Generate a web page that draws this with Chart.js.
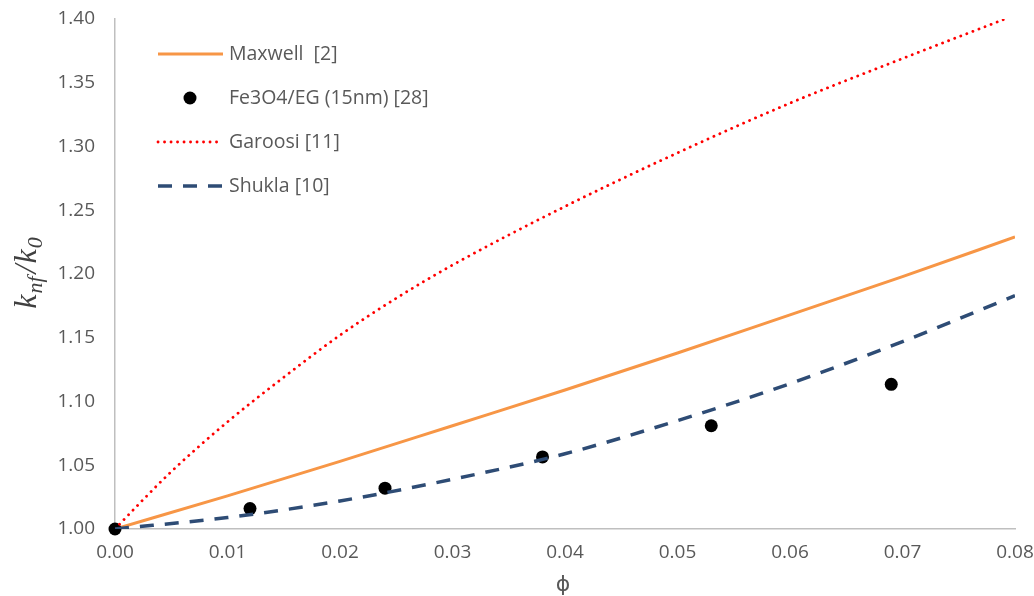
<!DOCTYPE html>
<html>
<head>
<meta charset="utf-8">
<title>k_nf / k_0 vs phi</title>
<script src="https://cdn.jsdelivr.net/npm/chart.js@4.4.1/dist/chart.umd.min.js"></script>
<style>
  html, body { margin: 0; padding: 0; background: #ffffff; }
  #wrap { width: 1034px; height: 596px; }
</style>
</head>
<body>
<div id="wrap"><canvas id="kchart" width="1034" height="596"></canvas></div>
<script>
// values
const maxwellPhi = [0, 0.01, 0.02, 0.03, 0.04, 0.05, 0.06, 0.07, 0.08];
const maxwellK   = [1.000, 1.026, 1.053, 1.081, 1.109, 1.138, 1.168, 1.198, 1.229];

const expPhi = [0, 0.012, 0.024, 0.038, 0.053, 0.069];
const expK   = [1.000, 1.016, 1.032, 1.0565, 1.081, 1.1135];

const garoosiPhi = [0, 0.0025, 0.005, 0.01, 0.015, 0.02, 0.025, 0.03, 0.04, 0.05, 0.06, 0.07, 0.08];
const garoosiK   = [1.000, 1.023, 1.045, 1.084, 1.119, 1.152, 1.181, 1.207, 1.253, 1.295, 1.334, 1.369, 1.403];

const shuklaPhi = [0, 0.01, 0.02, 0.03, 0.04, 0.05, 0.06, 0.07, 0.08];
const shuklaK   = [1.000, 1.009, 1.022, 1.039, 1.059, 1.085, 1.114, 1.147, 1.183];

const xTicks = [0, 0.01, 0.02, 0.03, 0.04, 0.05, 0.06, 0.07, 0.08];
const yTicks = [1.00, 1.05, 1.10, 1.15, 1.20, 1.25, 1.30, 1.35, 1.40];

const toPoints = (xs, ys) => xs.map((x, i) => ({ x: x, y: ys[i] }));

const TEXT_COLOR = '#595959';
const AXIS_COLOR = '#BFBFBF';
const FONT = '"Open Sans", "Liberation Sans", sans-serif';

// legend drawn inside the plot, top-left, plus the two axis titles
const decorations = {
  id: 'decorations',
  afterDraw(chart) {
    const ctx = chart.ctx;
    const sets = chart.data.datasets;
    const rows = [54, 98, 142, 186];
    ctx.save();
    sets.forEach((ds, i) => {
      const y = rows[i];
      if (ds.showLine === false) {
        ctx.beginPath();
        ctx.fillStyle = ds.pointBackgroundColor;
        ctx.arc(190, y, ds.pointRadius, 0, Math.PI * 2);
        ctx.fill();
      } else {
        ctx.beginPath();
        ctx.strokeStyle = ds.borderColor;
        ctx.lineWidth = ds.borderWidth;
        ctx.lineCap = ds.borderCapStyle || 'butt';
        ctx.setLineDash(ds.borderDash || []);
        ctx.moveTo(158, y);
        ctx.lineTo(223, y);
        ctx.stroke();
        ctx.setLineDash([]);
      }
      ctx.fillStyle = TEXT_COLOR;
      ctx.font = '19.5px ' + FONT;
      ctx.textAlign = 'left';
      ctx.textBaseline = 'middle';
      ctx.fillText(ds.label, 229, y);
    });

    // x axis title
    ctx.fillStyle = TEXT_COLOR;
    ctx.font = '22px "DejaVu Sans", sans-serif';
    ctx.textAlign = 'center';
    ctx.textBaseline = 'middle';
    ctx.fillText('\u03D5', 563, 585);

    // y axis title: k_nf / k_0
    ctx.translate(26, 273);
    ctx.rotate(-Math.PI / 2);
    ctx.fillStyle = '#404040';
    ctx.textBaseline = 'alphabetic';
    ctx.textAlign = 'left';
    const big = 'italic 32px "Liberation Serif", "DejaVu Serif", serif';
    const small = 'italic 22px "Liberation Serif", "DejaVu Serif", serif';
    const parts = [
      { t: 'k', f: big, dy: 0, gap: 1 },
      { t: 'nf', f: small, dy: 6, gap: 3 },
      { t: '/', f: big, dy: 0, gap: 1 },
      { t: 'k', f: big, dy: 0, gap: 1 },
      { t: '0', f: small, dy: 6, gap: 0 }
    ];
    let total = 0;
    parts.forEach(p => { ctx.font = p.f; p.w = ctx.measureText(p.t).width; total += p.w + p.gap; });
    let cx = -total / 2;
    parts.forEach(p => {
      ctx.font = p.f;
      ctx.fillText(p.t, cx, 10 + p.dy);
      cx += p.w + p.gap;
    });
    ctx.restore();
  }
};

const ctx = document.getElementById('kchart').getContext('2d');

new Chart(ctx, {
  type: 'scatter',
  data: {
    datasets: [
      {
        label: 'Maxwell  [2]',
        data: toPoints(maxwellPhi, maxwellK),
        showLine: true,
        borderColor: '#F79646',
        backgroundColor: '#F79646',
        borderWidth: 3,
        pointRadius: 0,
        cubicInterpolationMode: 'monotone',
        order: 3
      },
      {
        label: 'Fe3O4/EG (15nm) [28]',
        data: toPoints(expPhi, expK),
        showLine: false,
        pointRadius: 6.5,
        pointBackgroundColor: '#000000',
        pointBorderColor: '#000000',
        pointBorderWidth: 0,
        clip: false,
        order: 2
      },
      {
        label: 'Garoosi [11]',
        data: toPoints(garoosiPhi, garoosiK),
        showLine: true,
        borderColor: '#FF0000',
        backgroundColor: '#FF0000',
        borderWidth: 2.8,
        borderDash: [0.1, 6.4],
        borderCapStyle: 'round',
        pointRadius: 0,
        cubicInterpolationMode: 'monotone',
        order: 1
      },
      {
        label: 'Shukla [10]',
        data: toPoints(shuklaPhi, shuklaK),
        showLine: true,
        borderColor: '#2E4C75',
        backgroundColor: '#2E4C75',
        borderWidth: 3.5,
        borderDash: [14, 11],
        pointRadius: 0,
        cubicInterpolationMode: 'monotone',
        order: 0
      }
    ]
  },
  options: {
    responsive: false,
    animation: false,
    layout: { padding: { top: 19, right: 19, left: 0, bottom: 0 } },
    plugins: {
      legend: { display: false },
      tooltip: { enabled: false }
    },
    scales: {
      x: {
        type: 'linear',
        min: 0,
        max: 0.08,
        afterFit: (scale) => {
          scale.height = 67;
          scale.paddingLeft = 0;
          scale.paddingRight = 0;
        },
        afterBuildTicks: (scale) => { scale.ticks = xTicks.map(v => ({ value: v })); },
        grid: { display: false, drawTicks: false },
        border: { display: true, color: AXIS_COLOR, width: 1.5 },
        ticks: {
          padding: 12,
          color: TEXT_COLOR,
          font: { family: FONT, size: 19 },
          maxRotation: 0,
          autoSkip: false,
          callback: (v) => Number(v).toFixed(2)
        }
      },
      y: {
        type: 'linear',
        min: 1.0,
        max: 1.4,
        afterFit: (scale) => {
          scale.width = 115;
          scale.paddingTop = 0;
          scale.paddingBottom = 0;
        },
        afterBuildTicks: (scale) => { scale.ticks = yTicks.map(v => ({ value: v })); },
        grid: { display: false, drawTicks: false },
        border: { display: true, color: AXIS_COLOR, width: 1.5 },
        ticks: {
          padding: 20,
          color: TEXT_COLOR,
          font: { family: FONT, size: 19 },
          autoSkip: false,
          callback: (v) => Number(v).toFixed(2)
        }
      }
    }
  },
  plugins: [decorations]
});
</script>
</body>
</html>
